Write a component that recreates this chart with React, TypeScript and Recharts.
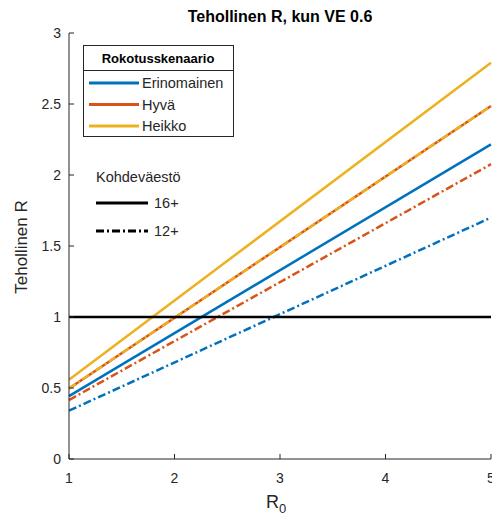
import React from 'react';
import { LineChart, Line, XAxis, YAxis, ReferenceLine } from 'recharts';

// R0 values at the ends of each line
const r0Values = [1, 5];

// effective R, 16+ target population
const erinomainen16 = [0.443, 2.216];
const hyva16 = [0.497, 2.486];
const heikko16 = [0.558, 2.79];

// effective R, 12+ target population
const erinomainen12 = [0.34, 1.7];
const hyva12 = [0.415, 2.076];
const heikko12 = [0.497, 2.486];

const xTicks = [1, 2, 3, 4, 5];
const yTicks = [0, 0.5, 1, 1.5, 2, 2.5, 3];
const threshold = 1;

const scenarioNames = ['Erinomainen', 'Hyvä', 'Heikko'];
const populationNames = ['16+', '12+'];

const BLUE = '#0072BD';
const ORANGE = '#D95319';
const YELLOW = '#EDB120';
const AXIS = '#262626';
const FONT = '"Liberation Sans", Arial, Helvetica, sans-serif';
const DASHDOT = '8 3 2 3';

const scenarioColors = [BLUE, ORANGE, YELLOW];

const data = r0Values.map((r, i) => ({
  r0: r,
  e16: erinomainen16[i],
  h16: hyva16[i],
  w16: heikko16[i],
  e12: erinomainen12[i],
  h12: hyva12[i],
  w12: heikko12[i],
}));

const BottomTick = (props: any) => {
  const { x, y, payload } = props;
  return (
    <g>
      <line x1={x} y1={y} x2={x} y2={y - 5} stroke={AXIS} />
      <text x={x} y={y + 24} textAnchor="middle" fill={AXIS} fontSize={14} fontFamily={FONT}>
        {payload.value}
      </text>
    </g>
  );
};

const TopTick = (props: any) => {
  const { x, y } = props;
  return <line x1={x} y1={y} x2={x} y2={y + 5} stroke={AXIS} />;
};

const LeftTick = (props: any) => {
  const { x, y, payload } = props;
  return (
    <g>
      <line x1={x} y1={y} x2={x + 5} y2={y} stroke={AXIS} />
      <text x={x - 8} y={y + 5} textAnchor="end" fill={AXIS} fontSize={14} fontFamily={FONT}>
        {payload.value}
      </text>
    </g>
  );
};

const RightTick = (props: any) => {
  const { x, y } = props;
  return <line x1={x} y1={y} x2={x - 5} y2={y} stroke={AXIS} />;
};

function Legends() {
  return (
    <svg
      width={492}
      height={519}
      style={{ position: 'absolute', left: 0, top: 0, pointerEvents: 'none' }}
      fontFamily={FONT}
    >
      <text x={280} y={22} textAnchor="middle" fontSize={16} fontWeight="bold" fill="#000">
        Tehollinen R, kun VE 0.6
      </text>
      <text
        x={0}
        y={0}
        transform="translate(27, 247) rotate(-90)"
        textAnchor="middle"
        fontSize={17}
        fill={AXIS}
      >
        Tehollinen R
      </text>
      <text x={276} y={508} textAnchor="middle" fontSize={18} fill={AXIS}>
        R<tspan dy={5} fontSize={13}>0</tspan>
      </text>

      <rect x={83.5} y={45.5} width={150} height={91} fill="#fff" stroke={AXIS} />
      <line x1={83.5} y1={70.5} x2={233.5} y2={70.5} stroke={AXIS} />
      <text x={158} y={63} textAnchor="middle" fontSize={13} fontWeight="bold" fill="#000">
        Rokotusskenaario
      </text>
      {scenarioNames.map((name, i) => (
        <g key={name}>
          <line x1={89} y1={83 + i * 21.5} x2={139} y2={83 + i * 21.5} stroke={scenarioColors[i]} strokeWidth={3} />
          <text x={142} y={88 + i * 21.5} fontSize={14.5} fill={AXIS}>
            {name}
          </text>
        </g>
      ))}

      <text x={96} y={182} fontSize={14.5} fill={AXIS}>
        Kohdeväestö
      </text>
      {populationNames.map((name, i) => (
        <g key={name}>
          <line
            x1={96}
            y1={203 + i * 28}
            x2={148}
            y2={203 + i * 28}
            stroke="#000"
            strokeWidth={3}
            strokeDasharray={i === 1 ? DASHDOT : undefined}
          />
          <text x={154} y={208 + i * 28} fontSize={14.5} fill={AXIS}>
            {name}
          </text>
        </g>
      ))}
    </svg>
  );
}

export default function App() {
  return (
    <div style={{ position: 'absolute', left: 0, top: 0, width: 492, height: 519, background: '#fff' }}>
      <LineChart width={492} height={519} data={data} margin={{ top: 33, right: 1, bottom: 30, left: 9 }}>
        <XAxis
          xAxisId="b"
          dataKey="r0"
          type="number"
          domain={[1, 5]}
          ticks={xTicks}
          interval={0}
          height={30}
          tickSize={0}
          tickMargin={0}
          tickLine={false}
          tick={<BottomTick />}
          axisLine={{ stroke: AXIS }}
        />
        <XAxis
          xAxisId="t"
          orientation="top"
          dataKey="r0"
          type="number"
          domain={[1, 5]}
          ticks={xTicks}
          interval={0}
          height={0}
          tickSize={0}
          tickMargin={0}
          tickLine={false}
          tick={<TopTick />}
          axisLine={{ stroke: AXIS }}
        />
        <YAxis
          yAxisId="l"
          type="number"
          domain={[0, 3]}
          ticks={yTicks}
          interval={0}
          width={60}
          tickSize={0}
          tickMargin={0}
          tickLine={false}
          tick={<LeftTick />}
          axisLine={{ stroke: AXIS }}
        />
        <YAxis
          yAxisId="r"
          orientation="right"
          type="number"
          domain={[0, 3]}
          ticks={yTicks}
          interval={0}
          width={0}
          tickSize={0}
          tickMargin={0}
          tickLine={false}
          tick={<RightTick />}
          axisLine={{ stroke: AXIS }}
        />
        <Line xAxisId="b" yAxisId="l" dataKey="e16" stroke={BLUE} strokeWidth={2.5} dot={false} isAnimationActive={false} />
        <Line xAxisId="b" yAxisId="l" dataKey="h16" stroke={ORANGE} strokeWidth={2.5} dot={false} isAnimationActive={false} />
        <Line xAxisId="b" yAxisId="l" dataKey="w16" stroke={YELLOW} strokeWidth={2.5} dot={false} isAnimationActive={false} />
        <Line xAxisId="b" yAxisId="l" dataKey="e12" stroke={BLUE} strokeWidth={2.5} strokeDasharray={DASHDOT} dot={false} isAnimationActive={false} />
        <Line xAxisId="b" yAxisId="l" dataKey="h12" stroke={ORANGE} strokeWidth={2.5} strokeDasharray={DASHDOT} dot={false} isAnimationActive={false} />
        <Line xAxisId="b" yAxisId="l" dataKey="w12" stroke={YELLOW} strokeWidth={2.5} strokeDasharray={DASHDOT} dot={false} isAnimationActive={false} />
        <ReferenceLine xAxisId="b" yAxisId="l" y={threshold} stroke="#000" strokeWidth={2.5} />
      </LineChart>
      <Legends />
    </div>
  );
}
